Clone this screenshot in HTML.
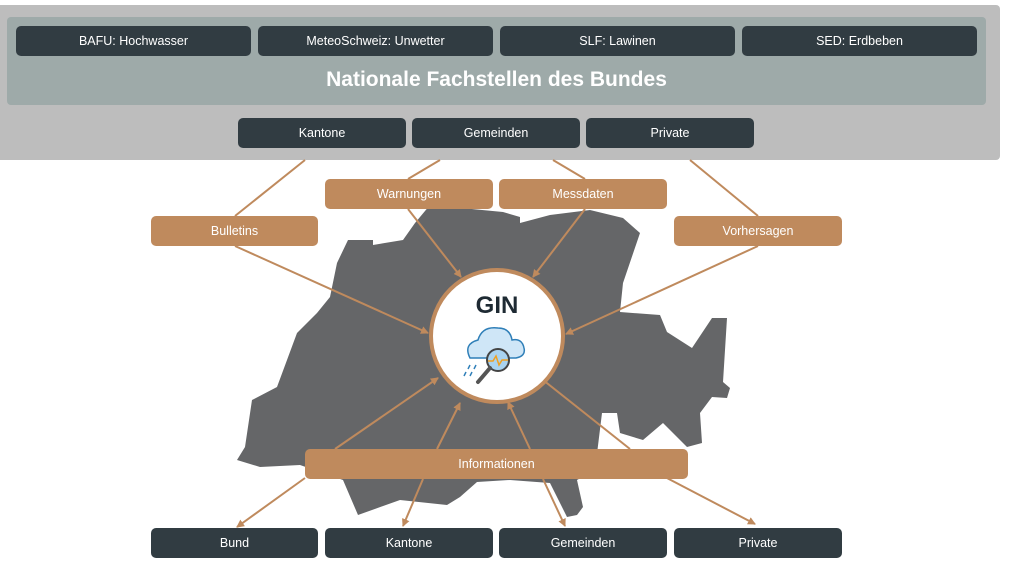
<!DOCTYPE html>
<html><head><meta charset="utf-8"><style>
body{margin:0;width:1024px;height:566px;background:#fff;overflow:hidden;font-family:"Liberation Sans",sans-serif;position:relative}
.b{position:absolute;height:30px;border-radius:5px;color:#fff;font-size:12.5px;display:flex;align-items:center;justify-content:center}
.d{background:#313c42}
.o{background:#bf8a5d}
</style></head><body>
<div style="position:absolute;left:0;top:5px;width:1000px;height:155px;background:#bdbdbd;border-radius:0 4px 4px 0"></div>
<div style="position:absolute;left:7px;top:17px;width:979px;height:88px;background:#9eaaa9;border-radius:4px"></div>
<div style="position:absolute;left:7px;top:68px;width:979px;text-align:center;color:#fff;font-size:21px;font-weight:bold">Nationale Fachstellen des Bundes</div>
<div class="b d" style="left:16px;top:26px;width:235px">BAFU: Hochwasser</div>
<div class="b d" style="left:258px;top:26px;width:235px">MeteoSchweiz: Unwetter</div>
<div class="b d" style="left:500px;top:26px;width:235px">SLF: Lawinen</div>
<div class="b d" style="left:742px;top:26px;width:235px">SED: Erdbeben</div>
<div class="b d" style="left:238px;top:118px;width:168px">Kantone</div>
<div class="b d" style="left:412px;top:118px;width:168px">Gemeinden</div>
<div class="b d" style="left:586px;top:118px;width:168px">Private</div>
<svg width="1024" height="566" style="position:absolute;left:0;top:0">
<defs><marker id="a" markerWidth="8" markerHeight="8" refX="7" refY="4" orient="auto" markerUnits="userSpaceOnUse"><path d="M0,0 L8,4 L0,8 z" fill="#bf8a5d"/></marker></defs>
<polygon fill="#656668" points="337,263 348,240 373,240 373,245 403,240 415,223 430,205 503,212 520,217 520,223 550,215 590,210 623,218 640,233 623,283 620,312 660,315 667,332 692,348 712,318 727,318 723,382 730,388 727,398 712,397 700,413 702,443 687,447 663,423 643,440 620,433 617,413 602,413 595,470 577,480 583,507 577,515 567,517 550,483 510,480 477,482 460,497 447,505 400,500 358,515 343,480 300,465 260,467 237,460 245,447 252,400 277,387 297,333 317,313 330,297"/>
<g stroke="#bf8a5d" stroke-width="2" fill="none">
<line x1="305" y1="160" x2="235" y2="216"/>
<line x1="440" y1="160" x2="408" y2="179"/>
<line x1="553" y1="160" x2="585" y2="179"/>
<line x1="690" y1="160" x2="758" y2="216"/>
<line x1="235" y1="246" x2="428" y2="333" marker-end="url(#a)"/>
<line x1="408" y1="209" x2="461" y2="277" marker-end="url(#a)"/>
<line x1="585" y1="209" x2="533" y2="277" marker-end="url(#a)"/>
<line x1="758" y1="246" x2="566" y2="334" marker-end="url(#a)"/>
<line x1="335" y1="449" x2="438" y2="378" marker-end="url(#a)"/>
<line x1="437" y1="449" x2="460" y2="403" marker-end="url(#a)"/>
<line x1="530" y1="449" x2="508" y2="402" marker-end="url(#a)"/>
<line x1="630" y1="449" x2="538" y2="376" marker-end="url(#a)"/>
<line x1="305" y1="478" x2="237" y2="527" marker-end="url(#a)"/>
<line x1="423" y1="479" x2="403" y2="526" marker-end="url(#a)"/>
<line x1="543" y1="479" x2="565" y2="526" marker-end="url(#a)"/>
<line x1="665" y1="477" x2="755" y2="524" marker-end="url(#a)"/>
</g>
<circle cx="497" cy="336" r="66" fill="#fff" stroke="#bf8a5d" stroke-width="4"/>
<text x="497" y="313" text-anchor="middle" font-family="Liberation Sans,sans-serif" font-weight="bold" font-size="24" fill="#1e2a33">GIN</text>
<path d="M470,358 q-7,-14 8,-18 q4,-14 20,-12 q12,0 14,12 q10,-2 12,8 q2,8 -8,10 z" fill="#cfe6f7" stroke="#2f7fb8" stroke-width="1.5"/>
<circle cx="498" cy="360" r="11" fill="#a9d3f0" stroke="#444" stroke-width="2"/>
<path d="M488,361 l5,0 l3,-5 l3,9 l3,-5 l6,0" stroke="#f0a020" stroke-width="1.5" fill="none"/>
<line x1="490" y1="368" x2="478" y2="382" stroke="#555" stroke-width="4" stroke-linecap="round"/>
<g stroke="#2f7fb8" stroke-width="1.5"><line x1="470" y1="365" x2="468" y2="369"/><line x1="476" y1="365" x2="474" y2="369"/><line x1="466" y1="372" x2="464" y2="376"/><line x1="472" y1="372" x2="470" y2="376"/></g>
</svg>
<div class="b o" style="left:325px;top:179px;width:168px">Warnungen</div>
<div class="b o" style="left:499px;top:179px;width:168px">Messdaten</div>
<div class="b o" style="left:151px;top:216px;width:167px">Bulletins</div>
<div class="b o" style="left:674px;top:216px;width:168px">Vorhersagen</div>
<div class="b o" style="left:305px;top:449px;width:383px">Informationen</div>
<div class="b d" style="left:151px;top:528px;width:167px">Bund</div>
<div class="b d" style="left:325px;top:528px;width:168px">Kantone</div>
<div class="b d" style="left:499px;top:528px;width:168px">Gemeinden</div>
<div class="b d" style="left:674px;top:528px;width:168px">Private</div>
</body></html>
